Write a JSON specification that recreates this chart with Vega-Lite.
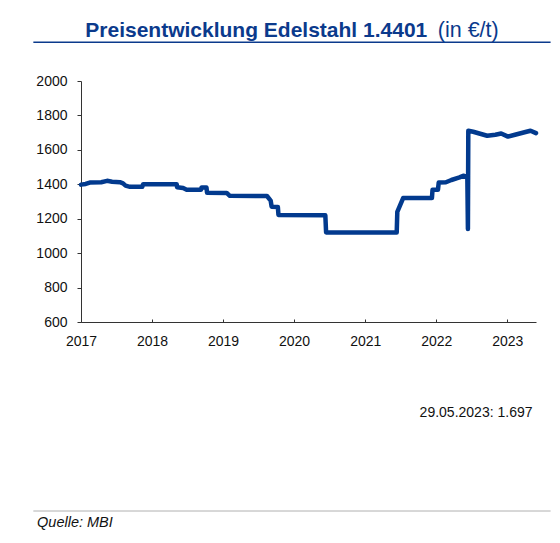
{
  "$schema": "https://vega.github.io/schema/vega-lite/v6.json",
  "width": 455,
  "height": 241,
  "autosize": "none",
  "padding": {"left": 81, "top": 81, "right": 24, "bottom": 221},
  "config": {
    "view": {"stroke": null},
    "font": "Liberation Sans",
    "axis": {"labelFont": "Liberation Sans", "labelFontSize": 14, "labelColor": "#111", "domainColor": "#333", "tickColor": "#333", "grid": false, "title": null}
  },
  "datasets": {
    "one": [{}],
    "prices": [
      {"date": "2017-01-01", "price": 1398},
      {"date": "2017-01-25", "price": 1402},
      {"date": "2017-02-15", "price": 1410},
      {"date": "2017-04-15", "price": 1412},
      {"date": "2017-05-15", "price": 1420},
      {"date": "2017-06-10", "price": 1415},
      {"date": "2017-07-20", "price": 1412},
      {"date": "2017-08-05", "price": 1405},
      {"date": "2017-08-18", "price": 1392},
      {"date": "2017-09-10", "price": 1385},
      {"date": "2017-11-12", "price": 1385},
      {"date": "2017-11-16", "price": 1400},
      {"date": "2018-05-08", "price": 1400},
      {"date": "2018-05-10", "price": 1383},
      {"date": "2018-06-10", "price": 1378},
      {"date": "2018-06-28", "price": 1368},
      {"date": "2018-09-10", "price": 1368},
      {"date": "2018-09-13", "price": 1382},
      {"date": "2018-10-08", "price": 1382},
      {"date": "2018-10-11", "price": 1351},
      {"date": "2019-01-20", "price": 1350},
      {"date": "2019-02-05", "price": 1333},
      {"date": "2019-08-15", "price": 1332},
      {"date": "2019-09-03", "price": 1305},
      {"date": "2019-09-08", "price": 1270},
      {"date": "2019-10-10", "price": 1268},
      {"date": "2019-10-13", "price": 1222},
      {"date": "2020-06-10", "price": 1220},
      {"date": "2020-06-14", "price": 1120},
      {"date": "2021-06-12", "price": 1120},
      {"date": "2021-06-15", "price": 1240},
      {"date": "2021-07-15", "price": 1320},
      {"date": "2021-12-10", "price": 1320},
      {"date": "2021-12-13", "price": 1368},
      {"date": "2022-01-10", "price": 1368},
      {"date": "2022-01-14", "price": 1410},
      {"date": "2022-02-20", "price": 1412},
      {"date": "2022-03-20", "price": 1425},
      {"date": "2022-05-01", "price": 1440},
      {"date": "2022-05-20", "price": 1450},
      {"date": "2022-06-10", "price": 1440},
      {"date": "2022-06-13", "price": 1140},
      {"date": "2022-06-15", "price": 1711},
      {"date": "2022-07-10", "price": 1705},
      {"date": "2022-09-20", "price": 1682},
      {"date": "2022-11-01", "price": 1688},
      {"date": "2022-12-01", "price": 1695},
      {"date": "2023-01-05", "price": 1677},
      {"date": "2023-02-10", "price": 1688},
      {"date": "2023-04-10", "price": 1705},
      {"date": "2023-05-01", "price": 1711},
      {"date": "2023-05-29", "price": 1697}
    ]
  },
  "layer": [
    {
      "data": {"name": "prices"},
      "mark": {"type": "line", "color": "#023a8e", "strokeWidth": 4.5, "strokeCap": "round", "strokeJoin": "round"},
      "encoding": {
        "x": {
          "field": "date", "type": "temporal",
          "scale": {"type": "utc", "domain": [{"year": 2017, "month": 1, "date": 1, "utc": true}, {"year": 2023, "month": 5, "date": 29, "utc": true}], "nice": false},
          "axis": {
            "values": [
              {"year": 2017, "month": 1, "date": 1, "utc": true},
              {"year": 2018, "month": 1, "date": 1, "utc": true},
              {"year": 2019, "month": 1, "date": 1, "utc": true},
              {"year": 2020, "month": 1, "date": 1, "utc": true},
              {"year": 2021, "month": 1, "date": 1, "utc": true},
              {"year": 2022, "month": 1, "date": 1, "utc": true},
              {"year": 2023, "month": 1, "date": 1, "utc": true}
            ],
            "format": "%Y", "formatType": "utc", "tickSize": -3, "labelPadding": 15, "labelFlush": false, "labelOverlap": false
          }
        },
        "y": {
          "field": "price", "type": "quantitative",
          "scale": {"domain": [600, 2000], "nice": false, "zero": false},
          "axis": {"values": [600, 800, 1000, 1200, 1400, 1600, 1800, 2000], "format": "d", "tickSize": 4, "labelPadding": 10, "labelOverlap": false, "labelFlush": false}
        }
      }
    },
    {
      "data": {"name": "one"},
      "mark": {"type": "text", "text": "Preisentwicklung Edelstahl 1.4401", "align": "left", "baseline": "alphabetic", "fontSize": 21, "fontWeight": "bold", "color": "#0b3a8c", "font": "Liberation Sans"},
      "encoding": {
        "x": {"datum": {"year": 2017, "month": 1, "date": 23, "utc": true}, "type": "temporal"},
        "y": {"datum": 2257, "type": "quantitative", "axis": {"values": [600, 800, 1000, 1200, 1400, 1600, 1800, 2000], "format": "d", "tickSize": 4, "labelPadding": 10, "labelOverlap": false, "labelFlush": false}}
      }
    },
    {
      "data": {"name": "one"},
      "mark": {"type": "text", "text": "(in €/t)", "align": "left", "baseline": "alphabetic", "fontSize": 21.5, "color": "#0b3a8c", "font": "Liberation Sans"},
      "encoding": {
        "x": {"datum": {"year": 2022, "month": 1, "date": 9, "utc": true}, "type": "temporal"},
        "y": {"datum": 2257, "type": "quantitative", "axis": {"values": [600, 800, 1000, 1200, 1400, 1600, 1800, 2000], "format": "d", "tickSize": 4, "labelPadding": 10, "labelOverlap": false, "labelFlush": false}}
      }
    },
    {
      "data": {"name": "one"},
      "mark": {"type": "rule", "color": "#0b3a8c", "strokeWidth": 1.5},
      "encoding": {
        "x": {"datum": {"year": 2016, "month": 5, "date": 1, "utc": true}, "type": "temporal"},
        "x2": {"datum": {"year": 2023, "month": 8, "date": 12, "utc": true}},
        "y": {"datum": 2225, "type": "quantitative", "axis": {"values": [600, 800, 1000, 1200, 1400, 1600, 1800, 2000], "format": "d", "tickSize": 4, "labelPadding": 10, "labelOverlap": false, "labelFlush": false}}
      }
    },
    {
      "data": {"name": "one"},
      "mark": {"type": "rule", "color": "#b0b0b0", "strokeWidth": 1},
      "encoding": {
        "x": {"datum": {"year": 2016, "month": 5, "date": 1, "utc": true}, "type": "temporal"},
        "x2": {"datum": {"year": 2023, "month": 8, "date": 12, "utc": true}},
        "y": {"datum": -498, "type": "quantitative", "axis": {"values": [600, 800, 1000, 1200, 1400, 1600, 1800, 2000], "format": "d", "tickSize": 4, "labelPadding": 10, "labelOverlap": false, "labelFlush": false}}
      }
    },
    {
      "data": {"name": "one"},
      "mark": {"type": "text", "text": "29.05.2023: 1.697", "align": "right", "baseline": "alphabetic", "fontSize": 14, "color": "#111", "font": "Liberation Sans"},
      "encoding": {
        "x": {"datum": {"year": 2023, "month": 5, "date": 11, "utc": true}, "type": "temporal"},
        "y": {"datum": 48, "type": "quantitative", "axis": {"values": [600, 800, 1000, 1200, 1400, 1600, 1800, 2000], "format": "d", "tickSize": 4, "labelPadding": 10, "labelOverlap": false, "labelFlush": false}}
      }
    },
    {
      "data": {"name": "one"},
      "mark": {"type": "text", "text": "Quelle: MBI", "align": "left", "baseline": "alphabetic", "fontSize": 14.5, "fontStyle": "italic", "color": "#111", "font": "Liberation Sans"},
      "encoding": {
        "x": {"datum": {"year": 2016, "month": 5, "date": 20, "utc": true}, "type": "temporal"},
        "y": {"datum": -589, "type": "quantitative", "axis": {"values": [600, 800, 1000, 1200, 1400, 1600, 1800, 2000], "format": "d", "tickSize": 4, "labelPadding": 10, "labelOverlap": false, "labelFlush": false}}
      }
    }
  ]
}
